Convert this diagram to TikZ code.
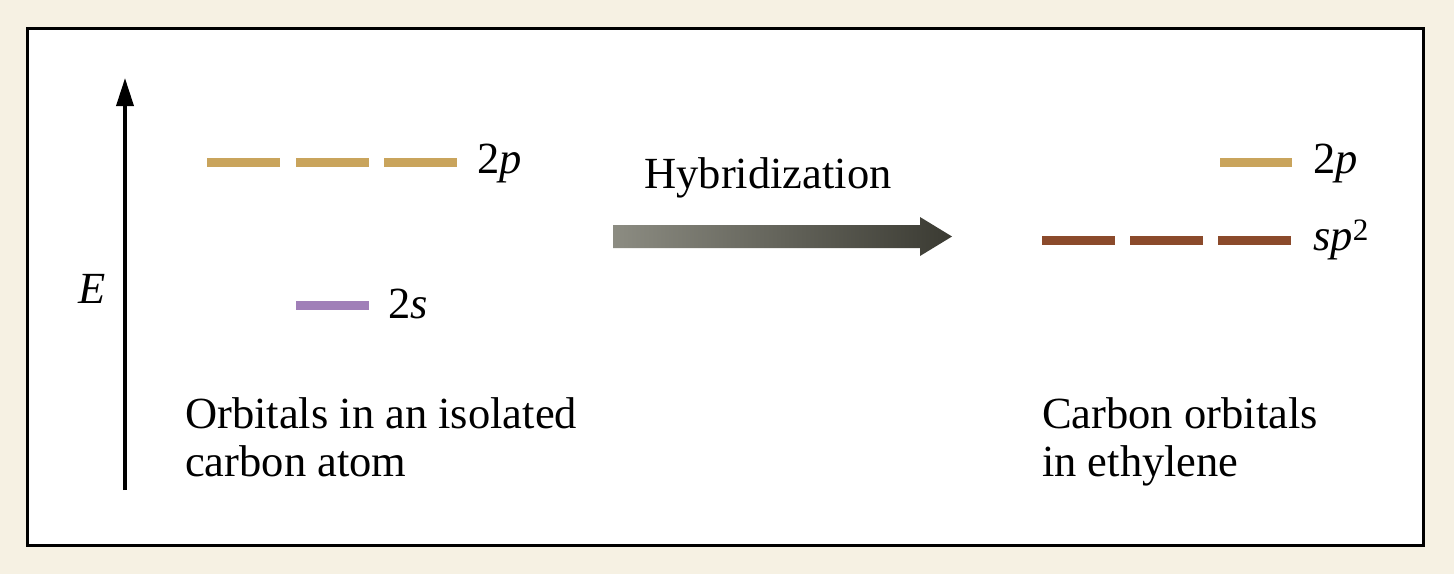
\documentclass[tikz,border=0pt]{standalone}
\usepackage{fontspec}
\setmainfont{Liberation Serif}
\usetikzlibrary{positioning,arrows.meta}

\definecolor{paper}{HTML}{F6F1E3}
\definecolor{pgold}{HTML}{C9A45C}
\definecolor{spurple}{HTML}{A07FB8}
\definecolor{spbrown}{HTML}{8B4A2B}
\definecolor{arrowL}{HTML}{8C8C82}
\definecolor{arrowR}{HTML}{3A3A32}

\tikzset{
    level/.style={line width=9pt, line cap=butt},
    lbl/.style={inner sep=0pt, anchor=base west, font=\fontsize{44.5}{48}\selectfont},
    caption/.style={lbl, align=left}
}

\begin{document}
\begin{tikzpicture}[x=1pt, y=-1pt]
    % page and frame
    \useasboundingbox (0,0) rectangle (1454,574);
    \fill[paper] (0,0) rectangle (1454,574);
    \draw[fill=white, line width=3pt] (27,28) rectangle (1423,545);

    % energy axis
    \coordinate (eb) at (125,490);
    \coordinate (et) at (125,78);
    \draw[line width=3.5pt, -{Triangle[length=28pt, width=17pt]}] (eb) -- (et);
    \node[lbl, anchor=base] (elbl) at (92,303) {\textit{E}};

    % isolated carbon atom
    \foreach \x in {207, 296, 384} {
        \draw[level, pgold] (\x,162) -- ++(73,0);
    }
    \node[lbl] (p2left) at (477,173) {2\textit{p}};
    \draw[level, spurple] (296,305) -- ++(73,0);
    \node[lbl] (s2) at (388,318) {2\textit{s}};
    \node[caption] (atom) at (185,476) {Orbitals in an isolated\\carbon atom};

    % hybridization arrow
    \node[lbl, anchor=base] (hyb) at (768,188) {Hybridization};
    \shade[left color=arrowL, right color=arrowR]
        (613,225) -- (920,225) -- (920,217) -- (952,236.5) -- (920,256)
        -- (920,248) -- (613,248) -- cycle;

    % carbon in ethylene
    \draw[level, pgold] (1220,162) -- ++(72,0);
    \node[lbl] (p2right) at (1313,173) {2\textit{p}};
    \foreach \x in {1042, 1130, 1218} {
        \draw[level, spbrown] (\x,240) -- ++(73,0);
    }
    \node[lbl] (sp2) at (1313,250) {\textit{sp}\textsuperscript{2}};
    \node[caption] (ethy) at (1042,476) {Carbon orbitals\\in ethylene};
\end{tikzpicture}
\end{document}
